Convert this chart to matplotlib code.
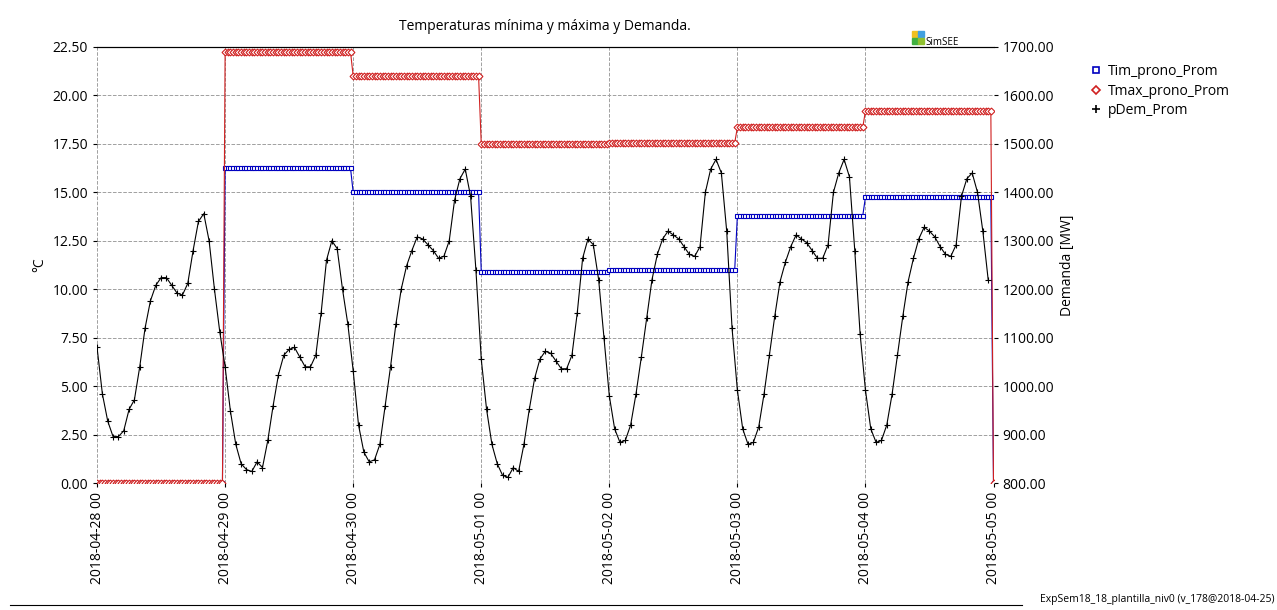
import matplotlib.pyplot as plt
import numpy as np
from datetime import datetime, timedelta
from matplotlib.lines import Line2D
from matplotlib.patches import Rectangle

start = datetime(2018, 4, 28)
days = ['2018-04-28 00', '2018-04-29 00', '2018-04-30 00', '2018-05-01 00',
        '2018-05-02 00', '2018-05-03 00', '2018-05-04 00', '2018-05-05 00']

# daily min / max forecast (first day has no data -> 0)
tmin_day = [0.0, 16.25, 15.0, 10.9, 11.0, 13.8, 14.75]
tmax_day = [0.0, 22.25, 21.0, 17.5, 17.55, 18.35, 19.2]

# hourly demand, in deg-C-equivalent on left scale (converted to MW below)
dem_raw = [
    7.0, 4.6, 3.2, 2.4, 2.4, 2.7, 3.8, 4.3, 6.0, 8.0, 9.4, 10.2, 10.6, 10.6, 10.2, 9.8, 9.7, 10.3, 12.0, 13.5, 13.9, 12.5, 10.0, 7.8,
    6.0, 3.7, 2.0, 1.0, 0.7, 0.6, 1.1, 0.8, 2.2, 4.0, 5.6, 6.6, 6.9, 7.0, 6.5, 6.0, 6.0, 6.6, 8.8, 11.5, 12.5, 12.1, 10.0, 8.2,
    5.8, 3.0, 1.6, 1.1, 1.2, 2.0, 4.0, 6.0, 8.2, 10.0, 11.2, 12.0, 12.7, 12.6, 12.3, 12.0, 11.6, 11.7, 12.5, 14.6, 15.7, 16.2, 14.8, 11.0,
    6.4, 3.8, 2.0, 1.0, 0.4, 0.3, 0.8, 0.6, 2.0, 3.8, 5.4, 6.4, 6.8, 6.7, 6.3, 5.9, 5.9, 6.6, 8.8, 11.6, 12.6, 12.3, 10.5, 7.5,
    4.5, 2.8, 2.1, 2.2, 3.0, 4.6, 6.5, 8.5, 10.5, 11.8, 12.6, 13.0, 12.8, 12.6, 12.2, 11.8, 11.7, 12.2, 15.0, 16.2, 16.7, 16.0, 13.0, 8.0,
    4.8, 2.8, 2.0, 2.1, 2.9, 4.6, 6.6, 8.6, 10.4, 11.4, 12.2, 12.8, 12.6, 12.4, 12.0, 11.6, 11.6, 12.3, 15.0, 16.0, 16.7, 15.8, 12.0, 7.7,
    4.8, 2.8, 2.1, 2.2, 3.0, 4.6, 6.6, 8.6, 10.4, 11.6, 12.6, 13.2, 13.0, 12.7, 12.2, 11.8, 11.7, 12.3, 14.8, 15.7, 16.0, 15.0, 13.0, 10.5,
]
demand = [800 + 40 * v for v in dem_raw]

# temperatures are sampled every half hour
tmin = [v for v in tmin_day for _ in range(48)] + [0.0]
tmax = [v for v in tmax_day for _ in range(48)] + [0.0]
t_temp = [start + timedelta(minutes=30 * h) for h in range(len(tmin))]
t_dem = [start + timedelta(hours=h) for h in range(len(demand))]

plt.rcParams['font.family'] = ['Open Sans', 'DejaVu Sans']
fig = plt.figure(figsize=(12.77, 6.10), dpi=100)
ax = fig.add_axes([0.076, 0.208, 0.702, 0.715])
ax2 = ax.twinx()

ax.plot(t_temp, tmin, color='#0000c0', lw=0.8, marker='s', ms=3.5,
        mfc='white', mec='#0000c0', mew=0.8)
ax.plot(t_temp, tmax, color='#d02020', lw=0.8, marker='D', ms=3.5,
        mfc='white', mec='#d02020', mew=0.8)
ax2.plot(t_dem, demand, color='black', lw=0.8, marker='+', ms=5, mew=0.8)

ax.set_ylim(0, 22.5)
ax.set_yticks(np.arange(0, 22.51, 2.5))
ax.set_yticklabels([f'{v:.2f}' for v in np.arange(0, 22.51, 2.5)])
ax2.set_ylim(800, 1700)
ax2.set_yticks(np.arange(800, 1701, 100))
ax2.set_yticklabels([f'{v:.2f}' for v in np.arange(800, 1701, 100)])
ax.set_ylabel('°C', fontsize=10)
ax2.set_ylabel('Demanda [MW]', fontsize=10)

ticks = [start + timedelta(days=d) for d in range(8)]
ax.set_xlim(ticks[0], ticks[-1])
ax.set_xticks(ticks)
ax.set_xticklabels(days, rotation=90)
ax.grid(True, ls='--', color='#a0a0a0', lw=0.7)
for a in (ax, ax2):
    a.tick_params(labelsize=10, length=3)
    for s in ['left', 'right', 'bottom']:
        a.spines[s].set_visible(False)
ax.spines['top'].set_color('black')
ax.set_title('Temperaturas mínima y máxima y Demanda.', fontsize=10, pad=12)

handles = [
    Line2D([], [], ls='none', marker='s', ms=4, mfc='white', mec='#0000c0', mew=1.2),
    Line2D([], [], ls='none', marker='D', ms=4, mfc='white', mec='#d02020', mew=1.2),
    Line2D([], [], ls='none', marker='+', ms=6, color='black', mew=1.2),
]
fig.legend(handles=handles, labels=['Tim_prono_Prom', 'Tmax_prono_Prom', 'pDem_Prom'],
           loc='upper left', bbox_to_anchor=(0.845, 0.915), frameon=False,
           fontsize=10, handlelength=0.6, handletextpad=0.6, labelspacing=0.3)

# SimSEE logo: four small coloured squares plus text
w, h = 0.0045, 0.0095
for (x, y, c) in [(0.714, 0.939, '#f0c020'), (0.719, 0.939, '#40a0e0'),
                  (0.714, 0.928, '#40b040'), (0.719, 0.928, '#90c030')]:
    fig.add_artist(Rectangle((x, y), w, h, transform=fig.transFigure, color=c))
fig.text(0.7245, 0.926, 'SimSEE', fontsize=7)

fig.text(0.998, 0.008, 'ExpSem18_18_plantilla_niv0 (v_178@2018-04-25)',
         ha='right', va='bottom', fontsize=7.5)
fig.add_artist(Line2D([0.008, 0.8], [0.008, 0.008], color='black', lw=0.8))

fig.savefig('out.png', dpi=100)
